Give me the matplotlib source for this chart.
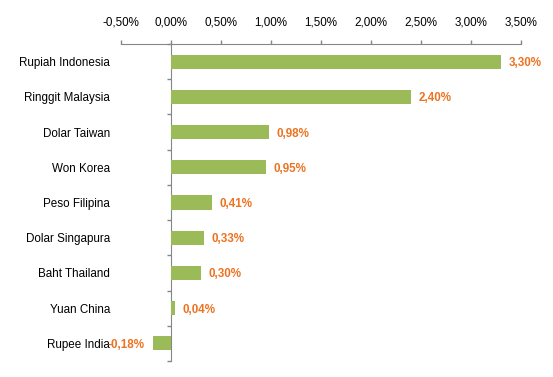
import matplotlib
matplotlib.use("Agg")
import matplotlib.pyplot as plt
import numpy as np
from matplotlib.ticker import FuncFormatter, MultipleLocator

categories = ["Rupiah Indonesia", "Ringgit Malaysia", "Dolar Taiwan", "Won Korea",
              "Peso Filipina", "Dolar Singapura", "Baht Thailand", "Yuan China", "Rupee India"]
values = [3.30, 2.40, 0.98, 0.95, 0.41, 0.33, 0.30, 0.04, -0.18]
xticks = [-0.5, 0.0, 0.5, 1.0, 1.5, 2.0, 2.5, 3.0, 3.5]

plt.rcParams['font.family'] = ['Liberation Sans', 'DejaVu Sans']
fig = plt.figure(figsize=(5.53, 3.77), dpi=100)
W, H = 553, 377
ax = fig.add_axes([121 / W, 1 - 361 / H, (521 - 121) / W, (361 - 44) / H])

y = np.arange(len(categories))
bar_color = "#9BBB59"
lab_color = "#EC7320"
axis_color = "#868686"
fs = 8.4

ax.barh(y, values, height=0.4, color=bar_color, zorder=3)
ax.set_xlim(-0.5, 3.5)
ax.set_ylim(len(categories) - 0.5, -0.5)

ax.xaxis.set_ticks_position("top")
ax.set_xticks(xticks)
ax.xaxis.set_major_formatter(FuncFormatter(lambda v, p: f"{v:.2f}%".replace(".", ",")))
ax.tick_params(axis="x", direction="out", length=3, width=1, color=axis_color,
               pad=8, labelsize=fs, labelcolor="#000000")

for s in ["right", "bottom"]:
    ax.spines[s].set_visible(False)
ax.spines["top"].set_color(axis_color)
ax.spines["left"].set_color(axis_color)
ax.spines["left"].set_position(("data", 0))

ax.set_yticks(y)
ax.set_yticklabels(categories, va="center_baseline")
ax.yaxis.set_minor_locator(MultipleLocator(1, offset=0.5))
ax.tick_params(axis="y", which="major", length=0, pad=44, labelsize=fs, labelcolor="#000000")
ax.tick_params(axis="y", which="minor", length=3, width=1, color=axis_color, direction="out")

for yi, v in zip(y, values):
    txt = f"{v:.2f}%".replace(".", ",")
    if v >= 0:
        ax.annotate(txt, (v, yi), xytext=(5.2, 0), textcoords="offset points",
                    ha="left", va="center_baseline", color=lab_color, fontsize=fs, fontweight="bold")
    else:
        ax.annotate(txt, (v, yi), xytext=(-5.8, 0), textcoords="offset points",
                    ha="right", va="center_baseline", color=lab_color, fontsize=fs, fontweight="bold")

fig.savefig("out.png", dpi=100)
